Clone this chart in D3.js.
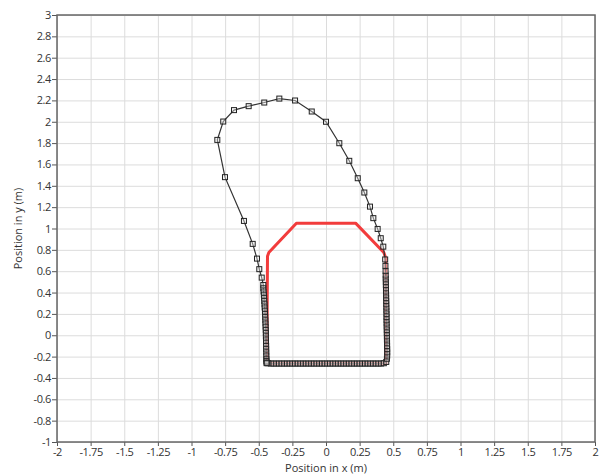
<!DOCTYPE html>
<html>
<head>
<meta charset="utf-8">
<script src="https://cdn.jsdelivr.net/npm/d3@7"></script>
<style>
  body { margin: 0; background: #fff; }
  text { font-family: "Open Sans", "DejaVu Sans", sans-serif; fill: #333; }
  .grid line { stroke: #dcdcdc; stroke-width: 1; }
  .grid .domain { display: none; }
  .axis .domain { display: none; }
  .axis line { stroke: #555; }
  .axis text { font-size: 11px; letter-spacing: -0.4px; }
</style>
</head>
<body>
<div id="graph"></div>
<script>
// tick values
const xTicks = [-2, -1.75, -1.5, -1.25, -1, -0.75, -0.5, -0.25, 0, 0.25, 0.5, 0.75, 1, 1.25, 1.5, 1.75, 2]
const yTicks = [-1, -0.8, -0.6, -0.4, -0.2, 0, 0.2, 0.4, 0.6, 0.8, 1, 1.2, 1.4, 1.6, 1.8, 2, 2.2, 2.4, 2.6, 2.8, 3]

// red outline (reference shape)
const redX = [-0.44, -0.435, -0.425, -0.22, 0.22, 0.43, 0.445, 0.445, -0.44]
const redY = [-0.265, 0.74, 0.775, 1.05, 1.05, 0.775, 0.72, -0.265, -0.265]

// black trajectory with square markers: bottom (left->right), right side up, top loop, left side down
const pathX = [
  -0.43, -0.41, -0.39, -0.37, -0.35, -0.33, -0.31, -0.29, -0.27, -0.25, -0.23, -0.21, -0.19, -0.17, -0.15,
  -0.13, -0.11, -0.09, -0.07, -0.05, -0.03, -0.01, 0.01, 0.03, 0.05, 0.07, 0.09, 0.11, 0.13, 0.15,
  0.17, 0.19, 0.21, 0.23, 0.25, 0.27, 0.29, 0.31, 0.33, 0.35, 0.37, 0.39, 0.41, 0.43,
  0.448, 0.453, 0.455, 0.455, 0.455, 0.454, 0.454, 0.453, 0.453, 0.452, 0.452, 0.451, 0.451, 0.45, 0.45, 0.45,
  0.449, 0.449, 0.448, 0.448, 0.447, 0.447, 0.446, 0.446, 0.445, 0.445, 0.444, 0.444, 0.443, 0.442, 0.44,
  0.426, 0.407, 0.384, 0.352, 0.327, 0.285, 0.236, 0.173, 0.099, 0.0, -0.106, -0.23, -0.347, -0.459,
  -0.575, -0.684, -0.764, -0.808, -0.751, -0.61, -0.545, -0.513, -0.496, -0.478, -0.466,
  -0.466, -0.464, -0.462, -0.46, -0.459, -0.457, -0.456, -0.454, -0.453, -0.452, -0.451, -0.45, -0.449,
  -0.448, -0.447, -0.447, -0.446, -0.446, -0.445, -0.445, -0.444, -0.444, -0.443, -0.443, -0.442, -0.441
]
const pathY = [
  -0.262, -0.265, -0.265, -0.265, -0.265, -0.265, -0.265, -0.265, -0.265, -0.265, -0.265, -0.265, -0.265, -0.265, -0.265,
  -0.265, -0.265, -0.265, -0.265, -0.265, -0.265, -0.265, -0.265, -0.265, -0.265, -0.265, -0.265, -0.265, -0.265, -0.265,
  -0.265, -0.265, -0.265, -0.265, -0.265, -0.265, -0.265, -0.265, -0.265, -0.265, -0.265, -0.265, -0.265, -0.262,
  -0.25, -0.22, -0.19, -0.16, -0.13, -0.1, -0.07, -0.04, -0.01, 0.02, 0.05, 0.08, 0.11, 0.14, 0.17, 0.2,
  0.23, 0.26, 0.29, 0.32, 0.35, 0.38, 0.41, 0.44, 0.47, 0.5, 0.53, 0.56, 0.6, 0.65, 0.71,
  0.83, 0.909, 0.996, 1.097, 1.205, 1.337, 1.471, 1.634, 1.799, 2.0, 2.096, 2.199, 2.217, 2.18,
  2.146, 2.109, 2.002, 1.83, 1.481, 1.071, 0.856, 0.718, 0.619, 0.54, 0.471,
  0.44, 0.41, 0.38, 0.35, 0.32, 0.29, 0.26, 0.23, 0.2, 0.17, 0.14, 0.11, 0.08,
  0.05, 0.02, -0.01, -0.04, -0.07, -0.1, -0.13, -0.16, -0.19, -0.22, -0.24, -0.255, -0.262
]

const width = 608
const height = 476
const margin = { top: 15, right: 13, bottom: 34, left: 57 }
const gWidth = width - margin.left - margin.right
const gHeight = height - margin.top - margin.bottom

const svg = d3.select('#graph').append('svg').attr('width', width).attr('height', height)
const graph = svg.append('g').attr('transform', `translate(${margin.left}, ${margin.top})`)

const xScale = d3.scaleLinear().domain([-2, 2]).range([0, gWidth])
const yScale = d3.scaleLinear().domain([-1, 3]).range([gHeight, 0])

// grid lines
graph.append('g').attr('class', 'grid')
  .attr('transform', `translate(0, ${gHeight})`)
  .call(d3.axisBottom(xScale).tickValues(xTicks).tickSize(-gHeight).tickFormat(''))
graph.append('g').attr('class', 'grid')
  .call(d3.axisLeft(yScale).tickValues(yTicks).tickSize(-gWidth).tickFormat(''))

// axes
graph.append('g').attr('class', 'axis')
  .attr('transform', `translate(0, ${gHeight})`)
  .call(d3.axisBottom(xScale).tickValues(xTicks).tickSize(4).tickPadding(2).tickFormat(d => String(d)))
graph.append('g').attr('class', 'axis')
  .call(d3.axisLeft(yScale).tickValues(yTicks).tickSize(5).tickPadding(1).tickFormat(d => String(d)))

// frame
graph.append('rect')
  .attr('width', gWidth).attr('height', gHeight)
  .attr('fill', 'none').attr('stroke', '#666').attr('stroke-width', 1.5)

// red outline
const red = redX.map((x, i) => [x, redY[i]])
graph.append('path')
  .datum(red)
  .attr('fill', 'none')
  .attr('stroke', '#f23c3c')
  .attr('stroke-width', 3)
  .attr('stroke-linejoin', 'round')
  .attr('d', d3.line().x(d => xScale(d[0])).y(d => yScale(d[1])))

// trajectory
const pts = pathX.map((x, i) => [x, pathY[i]])
graph.append('path')
  .datum(pts.concat([pts[0]]))
  .attr('fill', 'none')
  .attr('stroke', '#333')
  .attr('stroke-width', 1.2)
  .attr('d', d3.line().x(d => xScale(d[0])).y(d => yScale(d[1])))

graph.selectAll('rect.mark').data(pts).enter()
  .append('rect')
  .attr('class', 'mark')
  .attr('x', d => xScale(d[0]) - 2.5)
  .attr('y', d => yScale(d[1]) - 2.5)
  .attr('width', 5).attr('height', 5)
  .attr('fill', '#e8e8e8').attr('fill-opacity', 0.4)
  .attr('stroke', '#222').attr('stroke-width', 1)

// axis labels
svg.append('text')
  .attr('x', margin.left + gWidth / 2)
  .attr('y', 472)
  .style('text-anchor', 'middle')
  .style('font-size', '11px')
  .text('Position in x (m)')

svg.append('text')
  .attr('transform', `translate(22, ${margin.top + gHeight / 2}) rotate(-90)`)
  .style('text-anchor', 'middle')
  .style('font-size', '11px')
  .text('Position in y (m)')
</script>
</body>
</html>
